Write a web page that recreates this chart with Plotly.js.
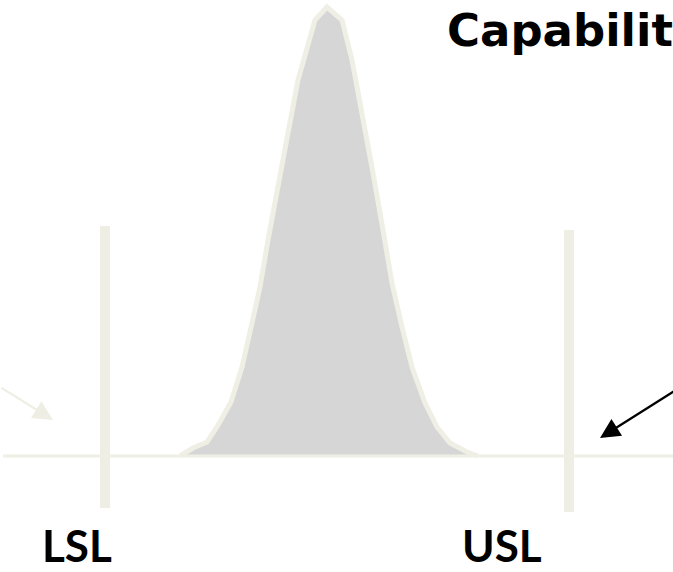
<!DOCTYPE html>
<html>
<head>
<meta charset="utf-8">
<script src="https://cdn.plot.ly/plotly-3.0.1.min.js"></script>
<style>html,body{margin:0;padding:0;background:#fff;}</style>
</head>
<body>
<div id="chart" style="width:673px;height:572px;"></div>
<script>
// Process distribution (measurement position vs. relative frequency)
const curveX = [180, 193, 207, 217, 231, 242, 252, 260, 268, 278, 288, 298, 305, 315, 327, 342, 352, 363, 373, 383, 392, 402, 412, 425, 437, 450, 467, 478];
const curveY = [0, 8, 14, 29, 54, 89, 133, 169, 216, 273, 323, 376, 401, 436, 449, 436, 396, 339, 283, 226, 173, 129, 89, 53, 29, 13, 4, 0];
// Specification limits
const specNames = ["LSL", "USL"];
const specX = [105, 569];
const specTop = [230, 226];
const specBottom = [-52, -56];
// Baseline extent
const baseX = [3, 673];
const baseY = [0, 0];
const titleText = "Capabilit";

const lineCol = '#EEEEE4';
const traces = [];
traces.push({
  x: curveX, y: curveY, type: 'scatter', mode: 'lines',
  fill: 'tozeroy', fillcolor: '#D6D6D6',
  line: {color: '#EFEFE6', width: 5, shape: 'linear'},
  hoverinfo: 'skip', showlegend: false
});
for (let i = 0; i < specX.length; i++) {
  traces.push({
    x: [specX[i], specX[i]], y: [specBottom[i], specTop[i]],
    type: 'scatter', mode: 'lines', name: specNames[i],
    line: {color: lineCol, width: 10},
    hoverinfo: 'skip', showlegend: false
  });
}
traces.push({
  x: baseX, y: baseY, type: 'scatter', mode: 'lines',
  line: {color: '#EFEFE6', width: 3},
  hoverinfo: 'skip', showlegend: false
});

const labelFont = {family: 'Lato', size: 44, weight: 'bold', color: '#000'};
const layout = {
  width: 673, height: 572,
  margin: {l: 0, r: 0, t: 0, b: 0},
  paper_bgcolor: '#fff', plot_bgcolor: '#fff',
  xaxis: {range: [0, 673], visible: false, fixedrange: true},
  yaxis: {range: [-116, 456], visible: false, fixedrange: true},
  showlegend: false,
  annotations: [
    {x: 445, y: 426, xref: 'x', yref: 'y', xanchor: 'left', yanchor: 'middle',
     text: '<b>' + titleText + '</b>', showarrow: false,
     font: {family: 'DejaVu Sans', size: 45, color: '#000'}},
    {x: 77, y: -89, xref: 'x', yref: 'y', xanchor: 'center', yanchor: 'middle',
     text: '<b>' + specNames[0] + '</b>', showarrow: false, font: labelFont},
    {x: 502, y: -89, xref: 'x', yref: 'y', xanchor: 'center', yanchor: 'middle',
     text: '<b>' + specNames[1] + '</b>', showarrow: false, font: labelFont},
    {x: 53, y: 36, ax: 0, ay: 69, xref: 'x', yref: 'y', axref: 'x', ayref: 'y',
     text: '', showarrow: true, arrowhead: 2, arrowsize: 1.8, arrowwidth: 2.2, arrowcolor: lineCol},
    {x: 600, y: 18, ax: 676, ay: 66, xref: 'x', yref: 'y', axref: 'x', ayref: 'y',
     text: '', showarrow: true, arrowhead: 2, arrowsize: 1.8, arrowwidth: 2.2, arrowcolor: '#000'}
  ]
};
Plotly.newPlot('chart', traces, layout, {displayModeBar: false, staticPlot: true});
</script>
</body>
</html>
